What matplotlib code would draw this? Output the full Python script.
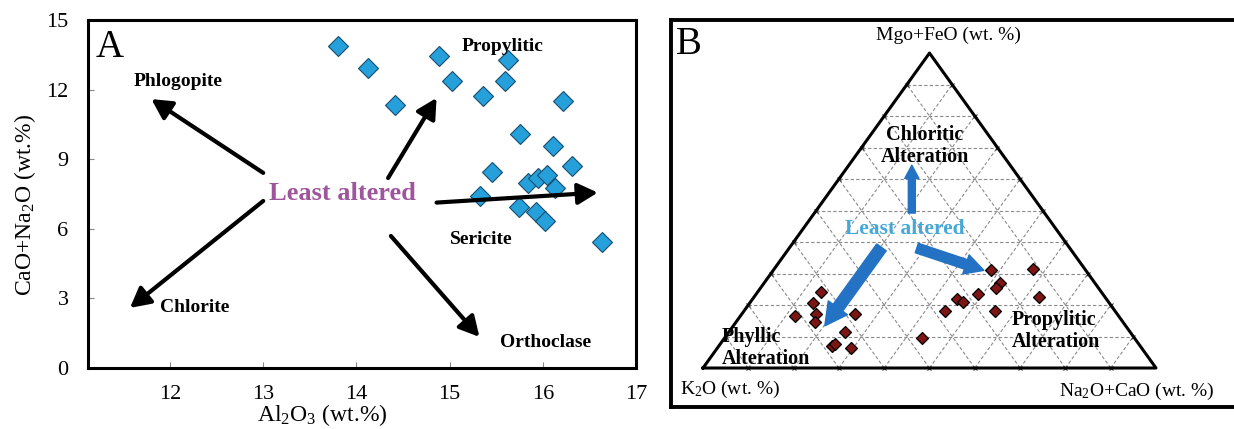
import matplotlib
matplotlib.use('Agg')
import matplotlib.pyplot as plt

plt.rcParams['font.family'] = ['Liberation Serif', 'DejaVu Serif']
plt.rcParams['mathtext.fontset'] = 'custom'
plt.rcParams['mathtext.rm'] = 'Liberation Serif'
plt.rcParams['mathtext.it'] = 'Liberation Serif:italic'
plt.rcParams['mathtext.bf'] = 'Liberation Serif:bold'

# panel A - Al2O3 vs CaO+Na2O (wt.%)
al2o3 = [13.80, 14.12, 14.41, 14.89, 15.03, 15.36, 15.59, 15.63, 16.22, 15.75, 16.11,
         16.31, 15.45, 15.84, 15.95, 16.05, 16.13, 15.33, 15.74, 15.93, 16.02, 16.63]
cao_na2o = [13.88, 12.94, 11.34, 13.45, 12.37, 11.72, 12.38, 13.28, 11.51, 10.07, 9.58,
            8.72, 8.43, 7.96, 8.18, 8.32, 7.74, 7.43, 6.95, 6.71, 6.34, 5.44]
x_ticks = [12, 13, 14, 15, 16, 17]
y_ticks = [0, 3, 6, 9, 12, 15]

# alteration trends of panel A (label position, arrow from -> to)
trend_names = ['Phlogopite', 'Propylitic', 'Sericite', 'Chlorite', 'Orthoclase']
trend_lx = [12.09, 15.57, 15.34, 12.27, 16.03]
trend_ly = [12.33, 13.84, 5.52, 2.59, 1.08]
trend_from = [(13.00, 8.41), (14.34, 8.19), (14.86, 7.13), (13.00, 7.20), (14.37, 5.69)]
trend_to = [(11.80, 11.59), (14.86, 11.64), (16.59, 7.56), (11.57, 2.59), (15.32, 1.34)]

# panel B - ternary K2O / Na2O+CaO / MgO+FeO (%)
k2o = [62, 65.5, 71.5, 66.5, 68, 58, 63, 68, 67, 64, 47,
       37.5, 21, 11.5, 21, 22.5, 14.5, 27.5, 33, 32, 26.5]
na2o_cao = [14, 14, 12, 16.5, 17.5, 25, 25.5, 25, 25.5, 29.5, 43.5,
            44.5, 48, 57, 52, 52, 63, 49, 45, 47, 55.5]
mgo_feo = [24, 20.5, 16.5, 17, 14.5, 17, 11.5, 7, 7.5, 6.5, 9.5,
           18, 31, 31.5, 27, 25.5, 22.5, 23.5, 22, 21, 18]

# blue arrows of panel B, in triangle (x, y) space
tri_from = [(0.461, 0.492), (0.394, 0.383), (0.472, 0.381)]
tri_to = [(0.461, 0.644), (0.269, 0.134), (0.620, 0.310)]
tri_arrow_size = [12, 20, 17]


def tern_xy(k, n, m):
    '''
    ternary percentages -> cartesian, K2O left, Na2O+CaO right, MgO+FeO on top
    '''
    tot = k + n + m
    return (n + m / 2) / tot, m / tot


fig = plt.figure(figsize=(12.34, 4.29), dpi=100)

# ---------------- panel A ----------------
ax = fig.add_axes([88 / 1234, 61 / 429, 548 / 1234, 348 / 429])
ax.plot(al2o3, cao_na2o, 'D', ms=10.5, color='#25a0da', mec='#174d6e', mew=0.8, zorder=3)
for name, lx, ly in zip(trend_names, trend_lx, trend_ly):
    ax.text(lx, ly, name, ha='center', va='center', fontsize=14, fontweight='bold')
for p0, p1 in zip(trend_from, trend_to):
    ax.annotate('', xy=p1, xytext=p0,
                arrowprops=dict(arrowstyle='-|>,head_length=0.6,head_width=0.32', lw=3,
                                color='black', mutation_scale=20, shrinkA=0, shrinkB=0),
                zorder=4)
ax.text(13.855, 7.54, 'Least altered', ha='center', va='center', fontsize=19,
        fontweight='bold', color='#9e559c', zorder=5)
ax.text(0.014, 0.975, 'A', transform=ax.transAxes, fontsize=28, va='top', ha='left')

ax.set_xlim(11.12, 17)
ax.set_ylim(0, 15)
ax.set_xticks(x_ticks)
ax.set_yticks(y_ticks)
ax.tick_params(direction='in', length=4, width=0.8, color='#888888', labelsize=16)
ax.tick_params(axis='x', pad=12)
ax.tick_params(axis='y', pad=14)
for s in ax.spines.values():
    s.set_linewidth(2.2)
fig.text(322 / 1234, 1 - 415 / 429, r'Al$_2$O$_3$ (wt.%)', ha='center', va='center', fontsize=17)
fig.text(25 / 1234, 1 - 205 / 429, r'CaO+Na$_2$O (wt.%)', ha='center', va='center',
         fontsize=17, rotation=90)

# ---------------- panel B ----------------
bx = fig.add_axes([671 / 1234, 22 / 429, 567 / 1234, 387 / 429])
bx.set_xlim(-0.0706, 1.181)
bx.set_ylim(-0.1238, 1.105)
bx.set_xticks([])
bx.set_yticks([])
for s in bx.spines.values():
    s.set_linewidth(2.8)

# dashed grid every 10 %
for i in range(1, 10):
    f = i / 10
    bx.plot([f / 2, 1 - f / 2], [f, f], color='#8a8a8a', lw=0.8, ls=(0, (3, 2)), zorder=1)
    bx.plot([1 - f, (1 - f) / 2], [0, 1 - f], color='#8a8a8a', lw=0.8, ls=(0, (3, 2)), zorder=1)
    bx.plot([f, f + (1 - f) / 2], [0, 1 - f], color='#8a8a8a', lw=0.8, ls=(0, (3, 2)), zorder=1)
    # small tick marks on the three edges
    bx.plot([f, f / 2, 1 - f / 2], [0, f, f], 'x', color='#333333', ms=3.5, mew=0.8, zorder=2)

bx.plot([0, 1, 0.5, 0], [0, 0, 1, 0], color='black', lw=2.2, zorder=2)

px = []
py = []
for k, n, m in zip(k2o, na2o_cao, mgo_feo):
    x, y = tern_xy(k, n, m)
    px.append(x)
    py.append(y)
bx.plot(px, py, 'D', ms=6.3, color='#7d1515', mec='black', mew=0.9, zorder=4)

for p0, p1, ms in zip(tri_from, tri_to, tri_arrow_size):
    bx.annotate('', xy=p1, xytext=p0,
                arrowprops=dict(arrowstyle='simple,head_length=0.8,head_width=0.85,tail_width=0.42',
                                color='#2372c4', mutation_scale=ms, shrinkA=0, shrinkB=0),
                zorder=5)

bx.text(0.446, 0.441, 'Least altered', ha='center', va='center', fontsize=15.5,
        fontweight='bold', color='#45a8d8', zorder=6)
bx.text(0.49, 0.705, 'Chloritic\nAlteration', ha='center', va='center', fontsize=14.5,
        fontweight='bold', linespacing=1.1, zorder=6)
bx.text(0.042, 0.063, 'Phyllic\nAlteration', ha='left', va='center', fontsize=14.5,
        fontweight='bold', linespacing=1.1, zorder=6)
bx.text(0.682, 0.117, 'Propylitic\nAlteration', ha='left', va='center', fontsize=14.5,
        fontweight='bold', linespacing=1.1, zorder=6)

bx.text(0.541, 1.057, 'Mgo+FeO (wt. %)', ha='center', va='center', fontsize=14)
bx.text(-0.051, -0.067, r'K$_2$O (wt. %)', ha='left', va='center', fontsize=14)
bx.text(0.786, -0.073, r'Na$_2$O+CaO (wt. %)', ha='left', va='center', fontsize=14)
bx.text(0.008, 0.985, 'B', transform=bx.transAxes, fontsize=28, va='top', ha='left')

fig.savefig('out.png', dpi=100)
